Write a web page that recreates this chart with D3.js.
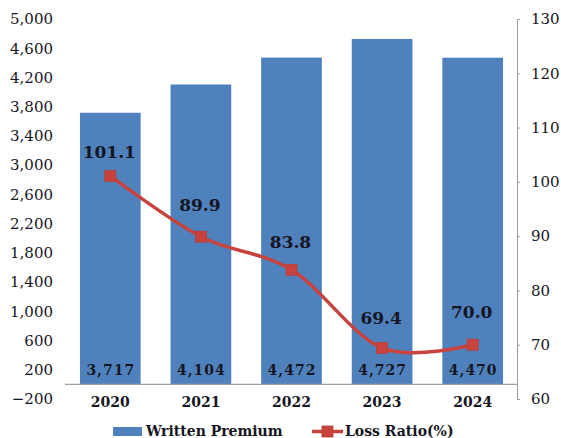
<!DOCTYPE html>
<html>
<head>
<meta charset="utf-8">
<script src="https://cdn.jsdelivr.net/npm/d3@7"></script>
<style>
  body { margin: 0; background: #fff; }
  svg { display: block; }
</style>
</head>
<body>
<svg id="chart" width="561" height="438"></svg>
<script>
// Yearly figures
const years = ["2020", "2021", "2022", "2023", "2024"];
const writtenPremium = [3717, 4104, 4472, 4727, 4470];
const lossRatio = [101.1, 89.9, 83.8, 69.4, 70.0];

// Axis ticks
const premiumTicks = [-200, 200, 600, 1000, 1400, 1800, 2200, 2600, 3000, 3400, 3800, 4200, 4600, 5000];
const ratioTicks = [60, 70, 80, 90, 100, 110, 120, 130];

// Legend entries
const seriesNames = ["Written Premium", "Loss Ratio(%)"];

// Layout & style
const BAR_COLOR = "#4F81BD";
const LINE_COLOR = "#C8433E";
const AXIS_COLOR = "#A0A0A0";
const TEXT_COLOR = "#161622";
const SERIF = "'DejaVu Serif', serif";
const labelLift = [18, 26, 22, 24, 27]; // distance of each ratio label above its marker

const svg = d3.select("#chart");

const x = d3.scaleBand()
  .domain(years)
  .range([65, 518])
  .paddingInner(0.33)
  .paddingOuter(0.165);

const yLeft = d3.scaleLinear().domain([-200, 5000]).range([399, 19]);
const yRight = d3.scaleLinear().domain([60, 130]).range([399, 19]);

// Bars
svg.append("g")
  .selectAll("rect")
  .data(years)
  .join("rect")
  .attr("x", d => x(d))
  .attr("width", x.bandwidth())
  .attr("y", (d, i) => yLeft(writtenPremium[i]))
  .attr("height", (d, i) => yLeft(0) - yLeft(writtenPremium[i]))
  .attr("fill", BAR_COLOR);

// Left axis (labels only)
const leftAxis = svg.append("g")
  .attr("transform", "translate(65,0)")
  .call(d3.axisLeft(yLeft).tickValues(premiumTicks).tickSize(0).tickPadding(12).tickFormat(d3.format(",")));
leftAxis.select(".domain").remove();
leftAxis.selectAll("text")
  .attr("font-family", SERIF)
  .attr("font-size", 15)
  .attr("fill", TEXT_COLOR);

// Right axis
const rightAxis = svg.append("g")
  .attr("transform", "translate(517,0)")
  .call(d3.axisRight(yRight).tickValues(ratioTicks).tickSize(3).tickSizeOuter(0).tickPadding(11));
rightAxis.select(".domain").attr("stroke", AXIS_COLOR);
rightAxis.selectAll(".tick line").attr("stroke", AXIS_COLOR);
rightAxis.selectAll("text")
  .attr("font-family", SERIF)
  .attr("font-size", 15)
  .attr("fill", TEXT_COLOR);

// Category axis along zero
svg.append("line")
  .attr("x1", 65).attr("x2", 517)
  .attr("y1", yLeft(0)).attr("y2", yLeft(0))
  .attr("stroke", AXIS_COLOR)
  .attr("stroke-width", 1.2);

svg.append("g")
  .selectAll("text")
  .data(years)
  .join("text")
  .attr("x", d => x(d) + x.bandwidth() / 2)
  .attr("y", 407)
  .attr("text-anchor", "middle")
  .attr("font-family", SERIF)
  .attr("font-weight", "bold")
  .attr("font-size", 14)
  .attr("fill", TEXT_COLOR)
  .text(d => d);

// Premium labels inside bars
svg.append("g")
  .selectAll("text")
  .data(years)
  .join("text")
  .attr("x", d => x(d) + x.bandwidth() / 2 + 0.5)
  .attr("y", 375)
  .attr("text-anchor", "middle")
  .attr("font-family", SERIF)
  .attr("font-weight", "bold")
  .attr("font-size", 14)
  .attr("letter-spacing", 1)
  .attr("fill", TEXT_COLOR)
  .text((d, i) => d3.format(",")(writtenPremium[i]));

// Loss ratio line
const pts = years.map((d, i) => [x(d) + x.bandwidth() / 2, yRight(lossRatio[i])]);
svg.append("path")
  .datum(pts)
  .attr("d", d3.line().curve(d3.curveCardinal.tension(0)))
  .attr("fill", "none")
  .attr("stroke", LINE_COLOR)
  .attr("stroke-width", 3.5)
  .attr("stroke-linejoin", "round");

svg.append("g")
  .selectAll("rect")
  .data(pts)
  .join("rect")
  .attr("x", d => d[0] - 5.5)
  .attr("y", d => d[1] - 5.5)
  .attr("width", 11)
  .attr("height", 11)
  .attr("fill", LINE_COLOR)
  .attr("stroke", "#B53E39")
  .attr("stroke-width", 0.8);

// Loss ratio labels
svg.append("g")
  .selectAll("text")
  .data(pts)
  .join("text")
  .attr("x", d => d[0] - 1)
  .attr("y", (d, i) => d[1] - labelLift[i])
  .attr("text-anchor", "middle")
  .attr("font-family", SERIF)
  .attr("font-weight", "bold")
  .attr("font-size", 17)
  .attr("fill", TEXT_COLOR)
  .text((d, i) => d3.format(".1f")(lossRatio[i]));

// Legend
const legend = svg.append("g").attr("font-family", SERIF).attr("font-weight", "bold").attr("font-size", 14).attr("fill", TEXT_COLOR);
legend.append("rect").attr("x", 113).attr("y", 427).attr("width", 29).attr("height", 9).attr("fill", BAR_COLOR);
legend.append("text").attr("x", 146).attr("y", 436).text(seriesNames[0]);
legend.append("line").attr("x1", 312).attr("x2", 343).attr("y1", 431.5).attr("y2", 431.5)
  .attr("stroke", LINE_COLOR).attr("stroke-width", 3.5);
legend.append("rect").attr("x", 322).attr("y", 426).attr("width", 11).attr("height", 11)
  .attr("fill", LINE_COLOR).attr("stroke", "#B53E39").attr("stroke-width", 0.8);
legend.append("text").attr("x", 345).attr("y", 436).text(seriesNames[1]);
</script>
</body>
</html>
